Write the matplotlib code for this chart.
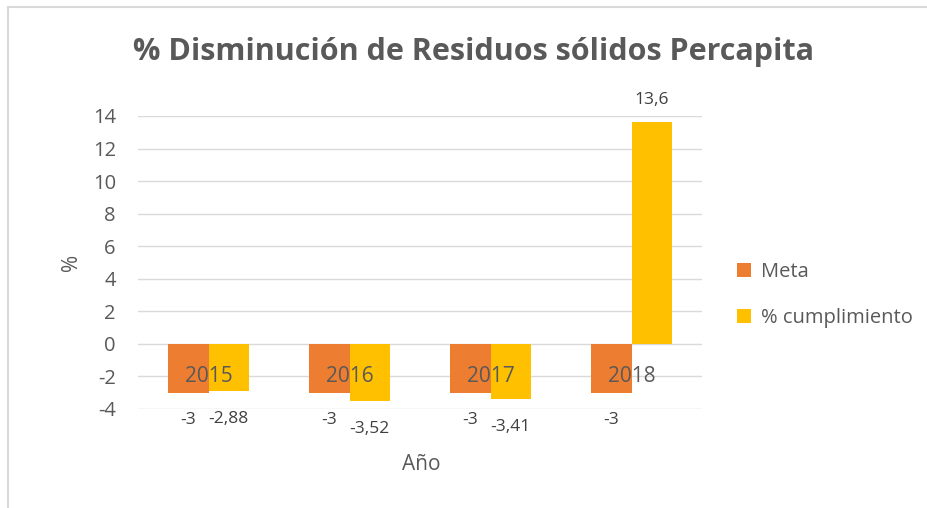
import matplotlib.pyplot as plt
from matplotlib.lines import Line2D
import numpy as np

# datos del gráfico
anios = ['2015', '2016', '2017', '2018']
meta = [-3, -3, -3, -3]
cumplimiento = [-2.88, -3.52, -3.41, 13.6]
etiquetas_meta = ['-3', '-3', '-3', '-3']
etiquetas_cumpl = ['-2,88', '-3,52', '-3,41', '13,6']

gris = '#595959'
plt.rcParams['font.family'] = ['Open Sans', 'DejaVu Sans']
plt.rcParams['axes.unicode_minus'] = False

fig = plt.figure(figsize=(9.27, 5.08), dpi=100)
ax = fig.add_axes([0.1489, 0.1949, 0.6084, 0.5768])

# borde del gráfico (solo arriba e izquierda quedan dentro de la imagen)
fig.lines.append(Line2D([0.009, 1.0], [0.986, 0.986], transform=fig.transFigure,
                        color='#D9D9D9', linewidth=1.5))
fig.lines.append(Line2D([0.009, 0.009], [0.0, 0.986], transform=fig.transFigure,
                        color='#D9D9D9', linewidth=1.5))

x = np.arange(len(anios))
ancho = 0.284
b1 = ax.bar(x - ancho / 2, meta, ancho, color='#ED7D31', label='Meta', zorder=2)
b2 = ax.bar(x + ancho / 2, cumplimiento, ancho, color='#FFC000', label='% cumplimiento', zorder=2)

# etiquetas de datos
for barra, txt in zip(b1, etiquetas_meta):
    ax.annotate(txt, (barra.get_x() + barra.get_width() / 2, barra.get_height()),
                xytext=(0, -20), textcoords='offset points', ha='center', va='center',
                fontsize=12.5, color='#404040')
for barra, txt, v in zip(b2, etiquetas_cumpl, cumplimiento):
    off = 16 if v > 0 else -20
    ax.annotate(txt, (barra.get_x() + barra.get_width() / 2, v),
                xytext=(0, off), textcoords='offset points', ha='center', va='center',
                fontsize=12.5, color='#404040')

ax.set_xlim(-0.5, 3.5)
ax.set_ylim(-4, 14)
ax.set_yticks(range(-4, 15, 2))
ax.yaxis.grid(True, color='#D9D9D9', linewidth=1)
ax.set_axisbelow(True)
ax.xaxis.set_zorder(5)

# eje de categorías cruzando en cero
ax.spines['bottom'].set_position(('data', 0))
ax.spines['bottom'].set_visible(False)
for s in ['top', 'right', 'left']:
    ax.spines[s].set_visible(False)
ax.set_xticks(x)
ax.set_xticklabels(anios)
ax.tick_params(axis='x', length=0, pad=16, labelsize=15, labelcolor=gris)
ax.tick_params(axis='y', length=0, pad=16, labelsize=14.5, labelcolor=gris)

ax.set_ylabel('%', fontsize=15, color=gris, labelpad=8)
fig.text(0.454, 0.085, 'Año', ha='center', va='center', fontsize=15, color=gris)

fig.text(0.511, 0.898, '% Disminución de Residuos sólidos Percapita', ha='center', va='center',
         fontsize=22, fontweight='bold', color=gris)

ax.legend(loc='center left', bbox_to_anchor=(1.03, 0.39), frameon=False,
          fontsize=14.5, labelcolor=gris, handlelength=0.7, handleheight=0.7,
          labelspacing=1.3, handletextpad=0.5)

fig.savefig('out.png', dpi=100)
